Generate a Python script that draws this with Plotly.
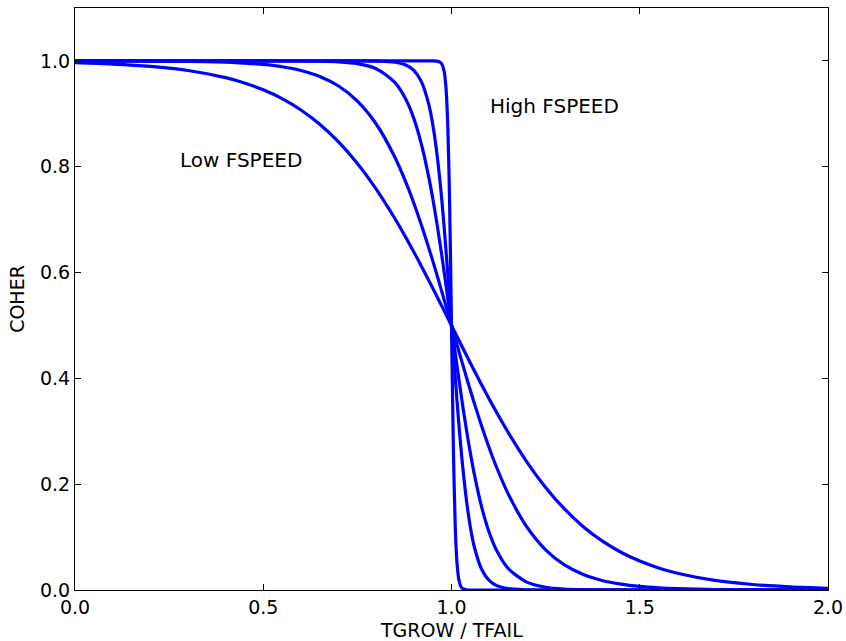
import plotly.graph_objects as go

# TGROW / TFAIL sample positions
x_vals = [0, 0.1, 0.2, 0.3, 0.4, 0.45, 0.5, 0.55, 0.6, 0.65, 0.7, 0.75, 0.8, 0.85, 0.88,
          0.9, 0.92, 0.94, 0.95, 0.96, 0.97, 0.975, 0.98, 0.985, 0.99, 0.995, 1.0,
          1.005, 1.01, 1.015, 1.02, 1.025, 1.03, 1.04, 1.05, 1.06, 1.08, 1.1, 1.12, 1.15,
          1.2, 1.25, 1.3, 1.35, 1.4, 1.45, 1.5, 1.55, 1.6, 1.7, 1.8, 1.9, 2.0]

# COHER for increasing FSPEED
coher_1 = [0.9967, 0.9941, 0.9896, 0.9818, 0.9683, 0.9583, 0.9453, 0.9286, 0.9072, 0.8803,
           0.8468, 0.8061, 0.7577, 0.7016, 0.6646, 0.6388, 0.6121, 0.5847, 0.5708, 0.5568,
           0.5426, 0.5356, 0.5285, 0.5214, 0.5142, 0.5071, 0.5,
           0.4929, 0.4858, 0.4786, 0.4715, 0.4644, 0.4574, 0.4432, 0.4292, 0.4153, 0.3879,
           0.3612, 0.3354, 0.2984, 0.2423, 0.1939, 0.1532, 0.1197, 0.0928, 0.0714, 0.0547,
           0.0417, 0.0317, 0.0182, 0.0104, 0.0059, 0.0033]
coher_2 = [1.0, 0.9999, 0.9997, 0.9991, 0.9975, 0.9959, 0.9933, 0.9890, 0.9820, 0.9707,
           0.9526, 0.9241, 0.8808, 0.8176, 0.7685, 0.7311, 0.6900, 0.6457, 0.6225, 0.5987,
           0.5744, 0.5622, 0.5498, 0.5375, 0.5250, 0.5125, 0.5,
           0.4875, 0.4750, 0.4625, 0.4502, 0.4378, 0.4256, 0.4013, 0.3775, 0.3543, 0.3100,
           0.2689, 0.2315, 0.1824, 0.1192, 0.0759, 0.0474, 0.0293, 0.0180, 0.0110, 0.0067,
           0.0041, 0.0025, 0.0009, 0.0003, 0.0001, 0.0]
coher_3 = [1.0, 1.0, 1.0, 1.0, 1.0, 1.0, 1.0, 0.9999, 0.9998, 0.9994,
           0.9982, 0.9948, 0.9852, 0.9589, 0.9255, 0.8909, 0.8429, 0.7790, 0.7408, 0.6985,
           0.6525, 0.6283, 0.6035, 0.5781, 0.5523, 0.5262, 0.5,
           0.4738, 0.4477, 0.4219, 0.3965, 0.3717, 0.3475, 0.3015, 0.2592, 0.2210, 0.1571,
           0.1091, 0.0745, 0.0411, 0.0148, 0.0052, 0.0018, 0.0006, 0.0002, 0.0001, 0.0,
           0.0, 0.0, 0.0, 0.0, 0.0, 0.0]
coher_4 = [1.0, 1.0, 1.0, 1.0, 1.0, 1.0, 1.0, 1.0, 1.0, 1.0,
           1.0, 1.0, 0.9997, 0.9975, 0.9918, 0.9820, 0.9608, 0.9168, 0.8808, 0.8320,
           0.7685, 0.7311, 0.6900, 0.6457, 0.5987, 0.5498, 0.5,
           0.4502, 0.4013, 0.3543, 0.3100, 0.2689, 0.2315, 0.1680, 0.1192, 0.0832, 0.0392,
           0.0180, 0.0082, 0.0025, 0.0003, 0.0, 0.0, 0.0, 0.0, 0.0, 0.0,
           0.0, 0.0, 0.0, 0.0, 0.0, 0.0]
coher_5 = [1.0, 1.0, 1.0, 1.0, 1.0, 1.0, 1.0, 1.0, 1.0, 1.0,
           1.0, 1.0, 1.0, 1.0, 1.0, 1.0, 1.0, 1.0, 1.0, 0.9997,
           0.9975, 0.9933, 0.9820, 0.9526, 0.8808, 0.7311, 0.5,
           0.2689, 0.1192, 0.0474, 0.0180, 0.0067, 0.0025, 0.0003, 0.0, 0.0, 0.0,
           0.0, 0.0, 0.0, 0.0, 0.0, 0.0, 0.0, 0.0, 0.0, 0.0,
           0.0, 0.0, 0.0, 0.0, 0.0, 0.0]

series = [coher_1, coher_2, coher_3, coher_4, coher_5]

x_ticks = [0.0, 0.5, 1.0, 1.5, 2.0]
y_ticks = [0.0, 0.2, 0.4, 0.6, 0.8, 1.0]

labels = [("Low FSPEED", 0.274, 0.813), ("High FSPEED", 1.098, 0.915)]
x_title = "TGROW / TFAIL"
y_title = "COHER"

FS = 19

fig = go.Figure()
for ys in series:
    fig.add_trace(go.Scatter(x=x_vals, y=ys, mode="lines",
                             line=dict(color="#0000ff", width=3.2, shape="spline",
                                       smoothing=0.8),
                             showlegend=False, hoverinfo="skip"))

for text, lx, ly in labels:
    fig.add_annotation(x=lx, y=ly, text=text, showarrow=False, xanchor="left",
                       yanchor="middle", font=dict(size=20, color="black"))

# x-axis title placed just under the tick labels
fig.add_annotation(x=0.5, y=0, xref="paper", yref="paper", text=x_title, showarrow=False,
                   xanchor="center", yanchor="bottom", yshift=-52, borderpad=0,
                   font=dict(size=FS, color="black"))

axis_common = dict(showgrid=False, zeroline=False, showline=True, linecolor="black",
                   linewidth=1, mirror="ticks", ticks="inside", ticklen=6, tickwidth=1,
                   tickcolor="black", tickfont=dict(size=FS, color="black"),
                   automargin=False)

fig.update_xaxes(range=[0, 2], tickvals=x_ticks, ticktext=[f"{v:.1f}" for v in x_ticks],
                 **axis_common)
fig.update_yaxes(range=[0, 1.1], tickvals=y_ticks, ticktext=[f"{v:.1f}" for v in y_ticks],
                 title=dict(text=y_title, font=dict(size=FS, color="black"), standoff=10),
                 **axis_common)

fig.update_layout(width=846, height=641, plot_bgcolor="white", paper_bgcolor="white",
                  margin=dict(l=75, r=18, t=8, b=51),
                  font=dict(family="DejaVu Sans", size=FS, color="black"))

fig.write_html("out.html")
